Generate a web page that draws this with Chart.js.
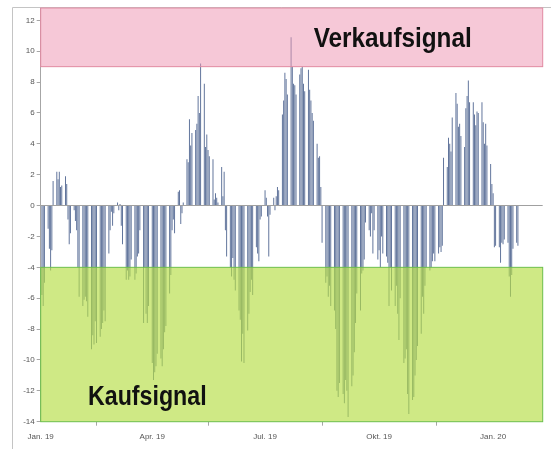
<!DOCTYPE html>
<html>
<head>
<meta charset="utf-8">
<script src="https://cdn.jsdelivr.net/npm/chart.js@4.4.1/dist/chart.umd.min.js"></script>
<style>
  html, body { margin: 0; padding: 0; background: #fff; }
</style>
</head>
<body>
<canvas id="signalChart" width="551" height="449"></canvas>
<script>
// first trading day of the series
const startDate = "2019-01-02";

// daily signal values, one row per trading week (Mon-Fri)
const signalValues = [
  -5.8, -6.5, -5.0,
  -1.5, -2.8, -4.2, -2.9, 1.6,
  2.2, 1.7, 2.2, 1.2, 1.3,
  1.9, 1.4, -0.9, -2.5, -1.8,
  -0.3, -1.0, -1.6, -4.0, -5.9,
  -6.5, -6.1, -5.9, -6.2, -7.2,
  -9.3, -8.4, -9.0, -7.5, -8.9,
  -8.5, -8.0, -7.6, -6.8, -7.5,
  -3.1, -1.6, -0.4, -1.3, -0.5,
  0.2, -0.3, 0.1, -1.3, -2.5,
  -4.8, -4.2, -4.8, -4.6, -3.5,
  -4.8, -4.4, -3.3, -3.1, -1.6,
  -7.6, -4.0, -7.0, -7.6, -6.5,
  -10.2, -11.3, -10.8, -10.4, -9.6,
  -9.9, -10.4, -9.3, -8.2, -7.8,
  -5.7, -4.5, -1.6, -0.9, -1.8,
  0.9, 1.0, -1.2, -0.5, 0.2,
  3.0, 2.8, 5.6, 3.9, 4.7,
  4.9, 5.3, 7.1, 6.0, 9.2,
  7.9, 3.8, 4.6, 3.6, 3.2,
  3.0, 0.4, 0.8, 0.5, 0.2,
  2.5, 0.6, 2.2, -1.6, -3.3,
  -4.0, -4.6, -3.4, -4.8, -5.5,
  -6.8, -7.4, -10.1, -8.3, -10.2,
  -8.1, -7.0, -5.6, -4.8, -5.8,
  -2.7, -3.1, -3.6, -0.9, -0.7,
  1.0, 0.5, -0.7, -3.3, -0.6,
  0.5, -0.3, 0.6, 1.2, 1.0,
  5.9, 6.8, 8.6, 8.2, 7.2,
  10.9, 9.0, 7.9, 7.8, 7.2,
  8.5, 8.9, 9.0, 7.9, 7.4,
  8.8, 7.5, 6.8, 6.0, 5.5,
  4.0, 3.1, 3.2, 1.2, -2.4,
  -5.0, -4.6, -5.9, -5.2, -6.5,
  -6.8, -8.0, -12.0, -12.4, -11.5,
  -12.2, -12.8, -11.3, -12.0, -13.7,
  -11.7, -11.0, -9.5, -7.6, -5.7,
  -6.8, -4.4, -4.2, -3.5, -1.1,
  -1.6, -2.0, -0.5, -3.1, -1.6,
  -3.5, -2.9, -4.0, -2.0, -3.1,
  -3.3, -3.7, -6.5, -4.0, -5.5,
  -6.5, -5.2, -7.0, -8.7, -6.0,
  -10.2, -9.9, -9.3, -12.2, -13.5,
  -12.6, -12.4, -11.0, -10.0, -9.1,
  -8.3, -5.9, -7.0, -5.2, -4.0,
  -4.2, -4.0, -3.6, -3.1, -3.6,
  -3.1, -2.7, -3.0, -2.6, 3.1,
  2.5, 4.4, 4.0, 3.5, 5.7,
  7.3, 6.6, 5.1, 5.3, 4.5,
  3.8, 6.3, 7.1, 8.1, 6.7,
  6.7, 5.9, 5.2, 6.1, 6.0,
  6.7, 5.4, 4.0, 5.3, 3.9,
  2.7, 1.4, 0.8, -2.7, -2.6,
  -2.7, -3.7, -2.4, -2.5, -2.2,
  -2.4, -4.6, -5.9, -4.5, -2.8,
  -2.4, -2.6
];

// x axis: days counted from 1 Jan 2019
const xTickDays = [0, 90, 181, 273, 365];
const xTickLabels = ["Jan. 19", "Apr. 19", "Jul. 19", "Okt. 19", "Jan. 20"];
const yTickValues = [-14, -12, -10, -8, -6, -4, -2, 0, 2, 4, 6, 8, 10, 12];

// signal zones
const sellLevel = 9;
const buyLevel = -4;
const sellLabel = "Verkaufsignal";
const buyLabel = "Kaufsignal";

// turn the trading days into day numbers (skip weekends)
function tradingDays(count) {
  let days = [];
  let base = Date.UTC(2019, 0, 1);
  let d = new Date(startDate + "T00:00:00Z");
  while (days.length < count) {
    let wd = d.getUTCDay();
    if (wd !== 0 && wd !== 6) {
      days.push(Math.round((d.getTime() - base) / 86400000));
    }
    d.setUTCDate(d.getUTCDate() + 1);
  }
  return days;
}

let dayNumbers = tradingDays(signalValues.length);
let points = signalValues.map((v, i) => ({ x: dayNumbers[i], y: v }));

// frame, coloured zones and their labels
const zonesPlugin = {
  id: "zones",
  beforeDraw(chart) {
    let ctx = chart.ctx;
    ctx.save();
    ctx.strokeStyle = "#c4c4c4";
    ctx.lineWidth = 1;
    ctx.beginPath();
    ctx.moveTo(12.5, 449);
    ctx.lineTo(12.5, 7.5);
    ctx.lineTo(551, 7.5);
    ctx.stroke();
    ctx.restore();
  },
  afterDatasetsDraw(chart) {
    let ctx = chart.ctx;
    let a = chart.chartArea;
    let x = chart.scales.x;
    let y = chart.scales.y;
    ctx.save();

    // sell zone
    let sTop = y.getPixelForValue(y.max);
    let sBot = y.getPixelForValue(sellLevel);
    ctx.fillStyle = "rgba(238,150,178,0.52)";
    ctx.fillRect(a.left, sTop, a.right - a.left, sBot - sTop);
    ctx.strokeStyle = "#e28aa2";
    ctx.lineWidth = 1;
    ctx.strokeRect(a.left, sTop, a.right - a.left, sBot - sTop);

    // buy zone
    let bTop = y.getPixelForValue(buyLevel);
    let bBot = y.getPixelForValue(y.min);
    ctx.fillStyle = "rgba(182,222,70,0.66)";
    ctx.fillRect(a.left, bTop, a.right - a.left, bBot - bTop);
    ctx.strokeStyle = "#6cbf4c";
    ctx.strokeRect(a.left, bTop, a.right - a.left, bBot - bTop);

    // labels
    ctx.fillStyle = "#111";
    ctx.font = 'bold 27px "Liberation Sans", Arial, sans-serif';
    ctx.textAlign = "center";
    ctx.textBaseline = "alphabetic";

    ctx.save();
    ctx.translate(x.getPixelForValue(284), y.getPixelForValue(10.3));
    ctx.scale(0.9, 1);
    ctx.fillText(sellLabel, 0, 0);
    ctx.restore();

    ctx.save();
    ctx.translate(x.getPixelForValue(86), y.getPixelForValue(-12.9));
    ctx.scale(0.86, 1);
    ctx.fillText(buyLabel, 0, 0);
    ctx.restore();

    ctx.restore();
  }
};

function initSignalChart() {
  let canvas = document.getElementById("signalChart");
  let ctx = canvas.getContext("2d");

  let chart = new Chart(ctx, {
    type: "bar",
    data: {
      datasets: [{
        data: points,
        backgroundColor: "#5d7199",
        borderWidth: 0,
        barPercentage: 0.78,
        categoryPercentage: 1
      }]
    },
    options: {
      responsive: false,
      animation: false,
      devicePixelRatio: 1,
      layout: {
        padding: { left: 0, right: 8.3, top: 8, bottom: 0 }
      },
      plugins: {
        legend: { display: false },
        tooltip: { enabled: false }
      },
      scales: {
        x: {
          type: "linear",
          min: 0,
          max: 405,
          offset: false,
          afterBuildTicks: (scale) => {
            scale.ticks = xTickDays.map(v => ({ value: v }));
          },
          afterFit: (scale) => {
            scale.height = 27.3;
          },
          ticks: {
            autoSkip: false,
            maxRotation: 0,
            padding: 6,
            color: "#555",
            font: { family: "Liberation Sans", size: 8 },
            callback: (value) => {
              let i = xTickDays.indexOf(value);
              return i >= 0 ? xTickLabels[i] : "";
            }
          },
          grid: {
            drawOnChartArea: false,
            tickLength: 4,
            tickColor: "#a6a6a6"
          },
          border: { display: false }
        },
        y: {
          min: -14,
          max: 12.8,
          afterBuildTicks: (scale) => {
            scale.ticks = yTickValues.map(v => ({ value: v }));
          },
          afterFit: (scale) => {
            scale.width = 40.7;
          },
          ticks: {
            padding: 2,
            color: "#555",
            font: { family: "Liberation Sans", size: 8 }
          },
          grid: {
            color: (c) => (c.tick && c.tick.value === 0 ? "#a0a0a0" : "rgba(0,0,0,0)"),
            tickLength: 4,
            tickColor: "#a6a6a6"
          },
          border: { display: true, color: "#a6a6a6" }
        }
      }
    },
    plugins: [zonesPlugin]
  });
}

initSignalChart();
</script>
</body>
</html>
